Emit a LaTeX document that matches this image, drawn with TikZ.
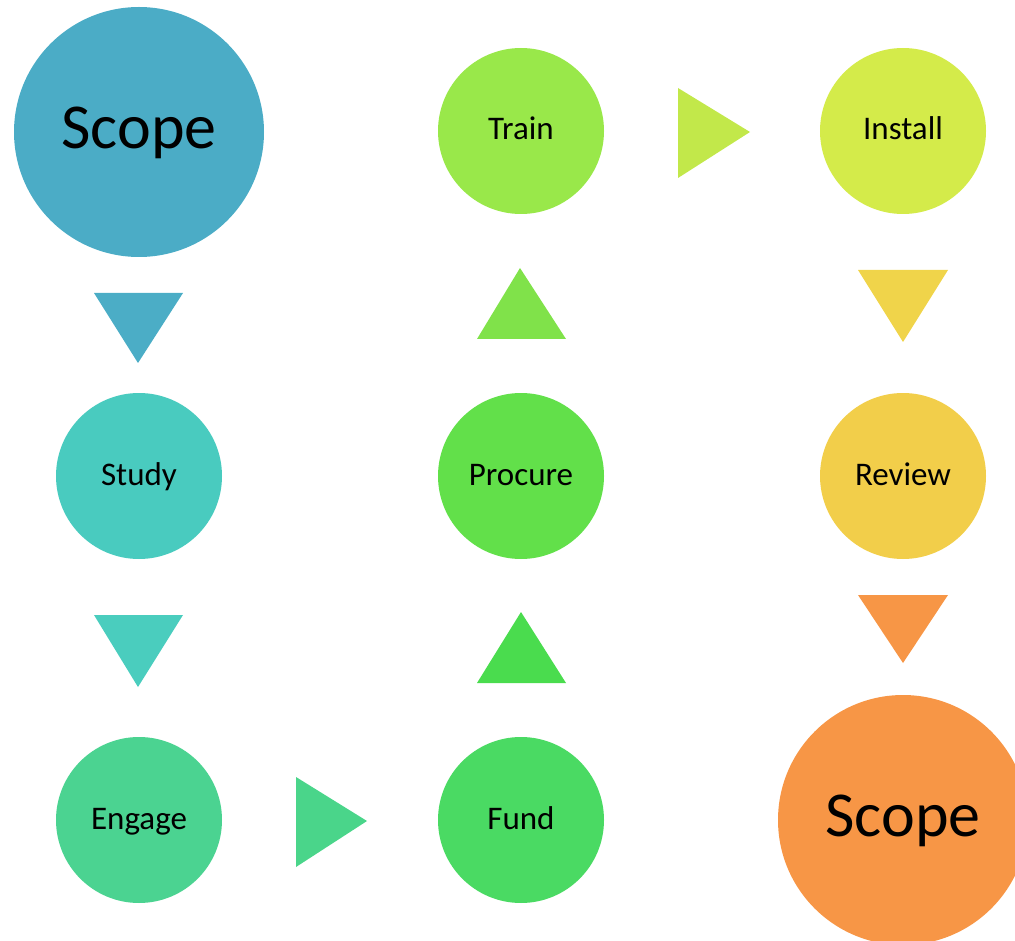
\documentclass[tikz,border=0pt]{standalone}
\usepackage{fontspec}
\setmainfont{Carlito}
\definecolor{cScopeA}{HTML}{4BACC6}
\definecolor{cStudy}{HTML}{49CBBF}
\definecolor{cEngage}{HTML}{4BD391}
\definecolor{cFund}{HTML}{4ADA63}
\definecolor{cProcure}{HTML}{62E04A}
\definecolor{cTrain}{HTML}{99E84A}
\definecolor{cInstall}{HTML}{D4EB4A}
\definecolor{cReview}{HTML}{F2CE4A}
\definecolor{cScopeB}{HTML}{F79646}
\definecolor{tA}{HTML}{4BADC6}
\definecolor{tB}{HTML}{4ACDBE}
\definecolor{tC}{HTML}{4AD58A}
\definecolor{tD}{HTML}{4ADC4E}
\definecolor{tE}{HTML}{80E24A}
\definecolor{tF}{HTML}{C2E84A}
\definecolor{tG}{HTML}{F0D44A}
\definecolor{tH}{HTML}{F79646}
\begin{document}
\begin{tikzpicture}[x=1pt,y=-1pt,
  bigc/.style={circle,inner sep=0pt,minimum size=250pt,font=\fontsize{64}{70}\selectfont,text=black,text height=46pt,text depth=13pt},
  smallc/.style={circle,inner sep=0pt,minimum size=166pt,font=\fontsize{33}{36}\selectfont,text=black,text height=24pt,text depth=6pt}]
\useasboundingbox (0,0) rectangle (1015,941);
\clip (0,0) rectangle (1015,941);
\node[bigc,fill=cScopeA] (scopeA) at (139,132) {Scope};
\node[smallc,fill=cStudy] (study) at (139,476) {Study};
\node[smallc,fill=cEngage] (engage) at (139,820) {Engage};
\node[smallc,fill=cFund] (fund) at (521,820) {Fund};
\node[smallc,fill=cProcure] (procure) at (521,476) {Procure};
\node[smallc,fill=cTrain] (train) at (521,131) {Train};
\node[smallc,fill=cInstall] (install) at (903,131) {Install};
\node[smallc,fill=cReview] (review) at (903,476) {Review};
\node[bigc,fill=cScopeB] (scopeB) at (903,820) {Scope};
% arrow triangles
\fill[tA] (94,293) -- (183,293) -- (138,363) -- cycle;
\fill[tB] (94,615) -- (183,615) -- (138,687) -- cycle;
\fill[tC] (296,777) -- (296,867) -- (367,821) -- cycle;
\fill[tD] (477,683) -- (566,683) -- (521,612) -- cycle;
\fill[tE] (477,339) -- (566,339) -- (520,268) -- cycle;
\fill[tF] (678,88) -- (678,178) -- (750,132) -- cycle;
\fill[tG] (858,270) -- (948,270) -- (903,342) -- cycle;
\fill[tH] (858,595) -- (948,595) -- (903,663) -- cycle;
\end{tikzpicture}
\end{document}
